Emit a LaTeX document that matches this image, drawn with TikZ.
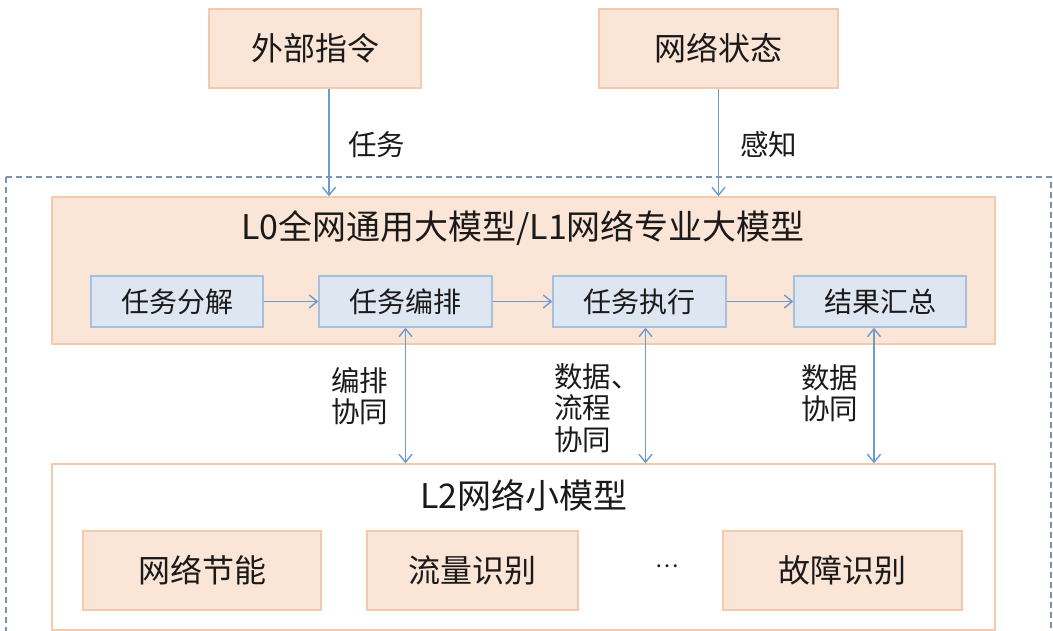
\documentclass[tikz,border=0pt]{standalone}
\usepackage{fontspec}
\setmainfont{Noto Sans CJK SC}
\usetikzlibrary{arrows.meta}
\definecolor{peach}{HTML}{FBE5D6}
\definecolor{peachline}{HTML}{F4C9AC}
\definecolor{bluefill}{HTML}{DEE6F2}
\definecolor{blueline}{HTML}{A3C0DF}
\definecolor{arrowblue}{HTML}{6A9CD2}
\definecolor{dashblue}{HTML}{7D93AE}
\definecolor{txt}{HTML}{1A1A1A}
\tikzset{
  peachbox/.style={draw=peachline, fill=peach, line width=1.3pt, inner sep=0pt, text=txt},
  bluebox/.style={draw=blueline, fill=bluefill, line width=1.3pt, inner sep=0pt, text=txt,
    minimum height=51pt, font=\fontsize{28}{32}\selectfont},
  arr/.style={draw=arrowblue, line width=1.6pt, -{Straight Barb[length=8pt,width=13pt,line width=1.4pt]}},
  darr/.style={draw=arrowblue, line width=1.6pt, {Straight Barb[length=8pt,width=13pt,line width=1.4pt]}-{Straight Barb[length=8pt,width=13pt,line width=1.4pt]}},
  lbl/.style={text=txt, inner sep=0pt, anchor=west, align=left, font=\fontsize{28.5}{31.5}\selectfont},
  bigtxt/.style={font=\fontsize{32}{36}\selectfont},
}
\begin{document}
\begin{tikzpicture}[x=1pt,y=-1pt]
\useasboundingbox (0,0) rectangle (1053,631);
\fill[white] (0,0) rectangle (1053,631);
% dashed frame
\draw[dashblue, line width=1.2pt, dash pattern=on 6pt off 4pt] (6,177) rectangle (1051,660);
% top boxes
\node[peachbox, bigtxt, minimum width=212pt, minimum height=79pt] (ext) at (315,48.5) {外部指令};
\node[peachbox, bigtxt, minimum width=239pt, minimum height=79pt] (net) at (718.5,48.5) {网络状态};
% L0 box
\node[peachbox, minimum width=943pt, minimum height=147pt] (L0) at (523.5,270.5) {};
\node[text=txt, inner sep=0pt, font=\fontsize{34}{38}\selectfont] (L0t) at (523,228) {L0全网通用大模型/L1网络专业大模型};
\node[bluebox, minimum width=172pt] (b1) at (177,301.5) {任务分解};
\node[bluebox, minimum width=173pt] (b2) at (405.5,301.5) {任务编排};
\node[bluebox, minimum width=173pt] (b3) at (639.5,301.5) {任务执行};
\node[bluebox, minimum width=172pt] (b4) at (880,301.5) {结果汇总};
\draw[arr] (b1) -- (b2);
\draw[arr] (b2) -- (b3);
\draw[arr] (b3) -- (b4);
% L2 box
\node[draw=peachline, fill=white, line width=1.3pt, minimum width=943pt, minimum height=166pt, inner sep=0pt] (L2) at (523.5,547) {};
\node[text=txt, inner sep=0pt, font=\fontsize{34}{38}\selectfont] (L2t) at (524,495) {L2网络小模型};
\node[peachbox, bigtxt, minimum width=238pt, minimum height=79pt] (s1) at (202,570.5) {网络节能};
\node[peachbox, bigtxt, minimum width=211pt, minimum height=79pt] (s2) at (472.5,570.5) {流量识别};
\node[text=txt, inner sep=0pt, font=\fontsize{22}{26}\selectfont] (dots) at (667,566) {…};
\node[peachbox, bigtxt, minimum width=239pt, minimum height=79pt] (s3) at (842.5,570.5) {故障识别};
% input arrows
\draw[arr] ([xshift=14pt]ext.south) -- ([xshift=14pt]ext.south |- L0.north);
\draw[arr] (net.south) -- (net.south |- L0.north);
\node[lbl] (t1) at (348,145) {任务};
\node[lbl] (t2) at (740,145) {感知};
% vertical double arrows
\draw[darr] (b2.south) -- (b2.south |- L2.north);
\draw[darr] ([xshift=6pt]b3.south) -- ([xshift=6pt]b3.south |- L2.north);
\draw[darr] ([xshift=-6pt]b4.south) -- ([xshift=-6pt]b4.south |- L2.north);
\node[lbl] (c1) at (331,396) {编排\\协同};
\node[lbl] (c2) at (554,408) {数据、\\流程\\协同};
\node[lbl] (c3) at (801,393) {数据\\协同};
\end{tikzpicture}
\end{document}
